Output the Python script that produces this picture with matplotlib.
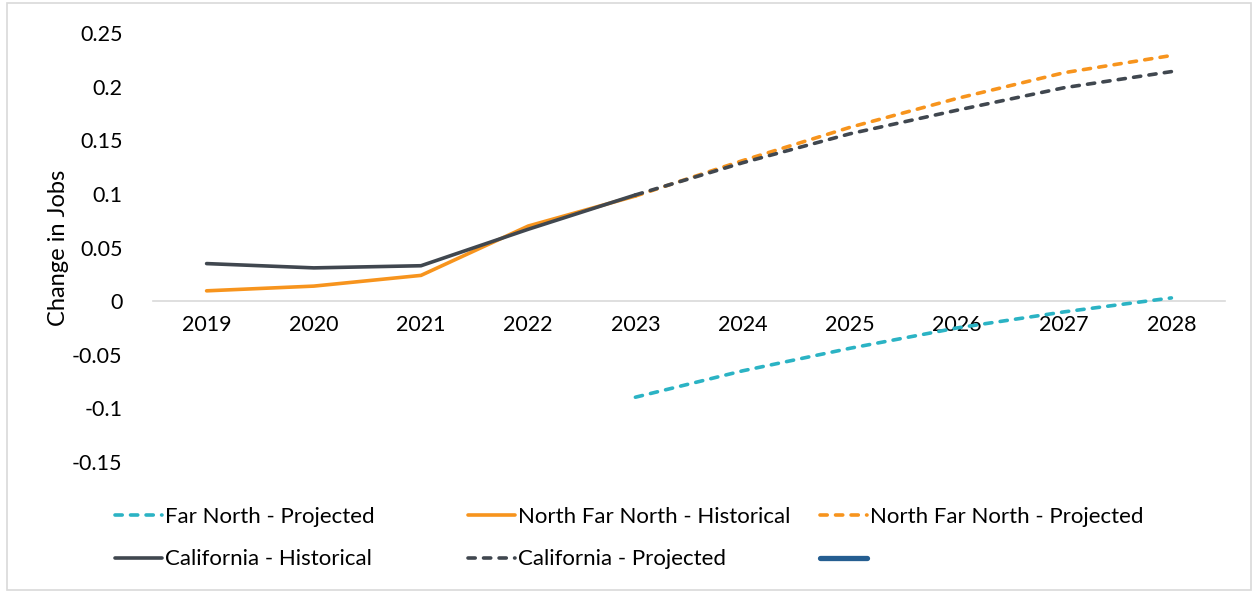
import matplotlib.pyplot as plt
from matplotlib.lines import Line2D
from matplotlib.patches import Rectangle

years = ["2019", "2020", "2021", "2022", "2023", "2024", "2025", "2026", "2027", "2028"]
hist_years = years[:5]
proj_years = years[4:]

nfn_hist = [0.0096, 0.014, 0.024, 0.070, 0.098]
ca_hist = [0.035, 0.031, 0.033, 0.067, 0.099]
nfn_proj = [0.098, 0.131, 0.162, 0.189, 0.213, 0.229]
ca_proj = [0.099, 0.129, 0.156, 0.178, 0.199, 0.214]
fn_proj = [-0.0896, -0.065, -0.044, -0.025, -0.010, 0.003]

TEAL = "#2bb3c4"
ORANGE = "#f7941d"
GREY = "#40474f"
BLUE = "#255e91"
DASH = (2.0, 2.3)

plt.rcParams["font.family"] = ["Lato", "DejaVu Sans"]
plt.rcParams["font.size"] = 15

fig = plt.figure(figsize=(12.53, 5.92), dpi=100)
ax = fig.add_axes([153 / 1253, 1 - 462 / 592, 1072 / 1253, 429 / 592])

x_all = range(len(years))
x_hist = [years.index(y) for y in hist_years]
x_proj = [years.index(y) for y in proj_years]

lw = 2.6
style = dict(lw=lw, solid_capstyle="round", dash_capstyle="round")
ax.plot(x_proj, fn_proj, color=TEAL, dashes=DASH, **style)
ax.plot(x_hist, nfn_hist, color=ORANGE, **style)
ax.plot(x_proj, nfn_proj, color=ORANGE, dashes=DASH, **style)
ax.plot(x_hist, ca_hist, color=GREY, **style)
ax.plot(x_proj, ca_proj, color=GREY, dashes=DASH, **style)

ax.set_xlim(-0.5, len(years) - 0.5)
ax.set_ylim(-0.15, 0.25)
ax.set_yticks([-0.15, -0.1, -0.05, 0, 0.05, 0.1, 0.15, 0.2, 0.25])
ax.set_yticklabels(["-0.15", "-0.1", "-0.05", "0", "0.05", "0.1", "0.15", "0.2", "0.25"])
ax.set_xticks(list(x_all), years)
ax.tick_params(axis="both", length=0, colors="black", labelsize=15.5)
ax.tick_params(axis="y", pad=22)
ax.tick_params(axis="x", pad=10)

for s in ("top", "right", "left"):
    ax.spines[s].set_visible(False)
ax.spines["bottom"].set_position(("data", 0))
ax.spines["bottom"].set_color("#d9d9d9")
ax.spines["bottom"].set_linewidth(1.2)
ax.spines["bottom"].set_zorder(0)

ax.set_ylabel("Change in Jobs", fontsize=17)
ax.yaxis.set_label_coords(-0.078, 0.5)


def handle(color, dashed=False, width=lw):
    h = Line2D([], [], color=color, lw=width, solid_capstyle="round", dash_capstyle="round")
    if dashed:
        h.set_dashes(DASH)
    return h


columns = [
    ([handle(TEAL, True), handle(GREY)], ["Far North - Projected", "California - Historical"], 104),
    ([handle(ORANGE), handle(GREY, True)], ["North Far North - Historical", "California - Projected"], 457),
    ([handle(ORANGE, True), handle(BLUE, width=3.8)], ["North Far North - Projected", ""], 809),
]
for hs, labels, xpix in columns:
    fig.legend(
        hs, labels,
        loc="upper left",
        bbox_to_anchor=(xpix / 1253, 1 - 496 / 592),
        frameon=False,
        handlelength=2.1,
        handletextpad=0.15,
        labelspacing=1.0,
        borderpad=0,
        fontsize=16,
    )

fig.patches.append(Rectangle((7 / 1253, 2 / 592), 1244 / 1253, 587 / 592, transform=fig.transFigure,
                             fill=False, edgecolor="#d9d9d9", lw=1.2))

fig.savefig("out.png", dpi=100)
